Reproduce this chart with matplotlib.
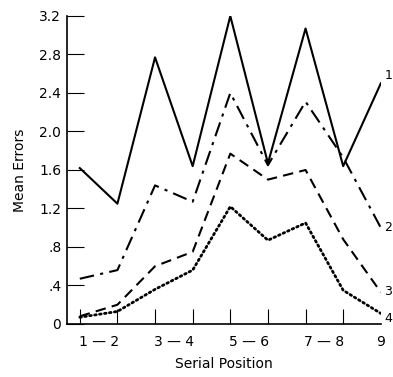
import matplotlib.pyplot as plt
import numpy as np

plt.rcParams['font.family'] = ['DejaVu Sans']

positions = [1, 2, 3, 4, 5, 6, 7, 8, 9]
curve_1 = [1.62, 1.25, 2.77, 1.64, 3.20, 1.67, 3.07, 1.64, 2.50]
curve_2 = [0.47, 0.56, 1.44, 1.27, 2.40, 1.65, 2.31, 1.73, 1.00]
curve_3 = [0.08, 0.20, 0.60, 0.75, 1.77, 1.50, 1.60, 0.88, 0.33]
curve_4 = [0.07, 0.13, 0.36, 0.56, 1.22, 0.87, 1.05, 0.35, 0.11]
curve_names = ['1', '2', '3', '4']

xtick_pos = [1.5, 3.5, 5.5, 7.5, 9]
xtick_labels = ['1 \u2014 2', '3 \u2014 4', '5 \u2014 6', '7 \u2014 8', '9']
yticks = [0, 0.4, 0.8, 1.2, 1.6, 2.0, 2.4, 2.8, 3.2]
ytick_labels = ['0', '.4', '.8', '1.2', '1.6', '2.0', '2.4', '2.8', '3.2']

fig = plt.figure(figsize=(3.93, 3.77), dpi=100)
ax = fig.add_axes([0.170, 0.1406, 0.799, 0.817])

ax.plot(positions, curve_1, color='black', lw=1.5, ls='-')
ax.plot(positions, curve_2, color='black', lw=1.5, ls=(0, (7, 3, 1.5, 3)))
ax.plot(positions, curve_3, color='black', lw=1.5, ls=(0, (5, 3)))
ax.plot(positions, curve_4, color='black', lw=2.0, ls=(0, (0.6, 1.2)),
        dash_capstyle='round')

# curve numbers at right end
ends = [2.58, 1.0, 0.34, 0.06]
for name, yv in zip(curve_names, ends):
    ax.annotate(name, xy=(9, yv), xytext=(2.5, 0), textcoords='offset points',
                fontsize=9, va='center', ha='left', annotation_clip=False)

ax.set_xlim(0.655, 9)
ax.set_ylim(0, 3.2)
ax.set_yticks(yticks, ytick_labels)
ax.set_xticks(xtick_pos, xtick_labels)
ax.set_xticks(positions, minor=True)
ax.tick_params(axis='x', which='major', length=0, pad=8, labelsize=10)
ax.tick_params(axis='x', which='minor', direction='in', length=11, width=0.8)
ax.tick_params(axis='y', direction='in', length=12, width=0.8, labelsize=10, pad=4)

ax.spines['top'].set_visible(False)
ax.spines['right'].set_visible(False)
ax.spines['left'].set_linewidth(1.2)
ax.spines['bottom'].set_linewidth(1.2)

ax.set_xlabel('Serial Position', fontsize=10, labelpad=6)
ax.set_ylabel('Mean Errors', fontsize=10, labelpad=9)

fig.savefig('out.png', dpi=100)
